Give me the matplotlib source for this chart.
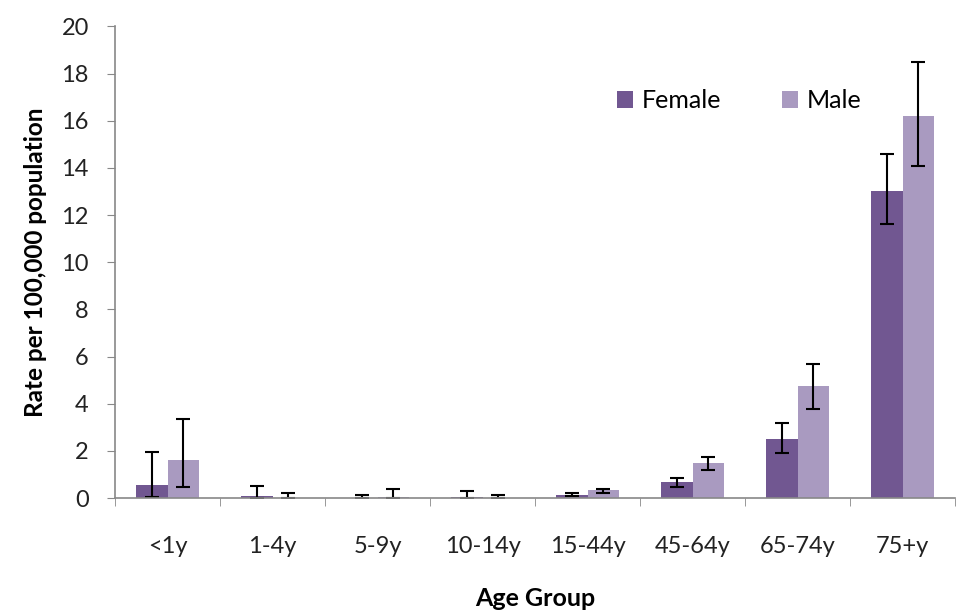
import matplotlib.pyplot as plt
import numpy as np

groups = ['<1y', '1-4y', '5-9y', '10-14y', '15-44y', '45-64y', '65-74y', '75+y']
female = [0.55, 0.1, 0.0, 0.07, 0.15, 0.69, 2.49, 13.0]
female_lo = [0.05, 0.0, 0.0, 0.0, 0.08, 0.47, 1.92, 11.6]
female_hi = [1.95, 0.5, 0.12, 0.3, 0.22, 0.85, 3.19, 14.6]
male = [1.6, 0.0, 0.07, 0.0, 0.33, 1.5, 4.75, 16.2]
male_lo = [0.47, 0.0, 0.0, 0.0, 0.2, 1.19, 3.8, 14.1]
male_hi = [3.35, 0.2, 0.4, 0.12, 0.4, 1.75, 5.7, 18.5]

plt.rcParams['font.family'] = ['Lato', 'DejaVu Sans']

fig = plt.figure(figsize=(9.6, 6.12), dpi=100)
ax = fig.add_axes([0.12, 0.186, 0.875, 0.771])

x = np.arange(len(groups))
w = 0.3
f = np.array(female)
m = np.array(male)
ax.bar(x - w / 2, f, w, color='#715791', label='Female')
ax.bar(x + w / 2, m, w, color='#a99ac0', label='Male')
ax.errorbar(x - w / 2, f, yerr=[f - np.array(female_lo), np.array(female_hi) - f],
            fmt='none', ecolor='black', elinewidth=1.5, capsize=5, capthick=1.5)
ax.errorbar(x + w / 2, m, yerr=[m - np.array(male_lo), np.array(male_hi) - m],
            fmt='none', ecolor='black', elinewidth=1.5, capsize=5, capthick=1.5)

ax.set_xlim(-0.5, len(groups) - 0.5)
ax.set_ylim(0, 20)
ax.set_yticks(range(0, 21, 2))
ax.set_xticks(x)
ax.set_xticklabels(groups)
ax.set_xticks(np.arange(-0.5, len(groups)), minor=True)
ax.tick_params(axis='x', which='major', length=0, pad=27, labelsize=17, labelcolor='#222222')
ax.tick_params(axis='x', which='minor', length=6, color='#888888', direction='out')
ax.tick_params(axis='y', length=6, color='#888888', labelsize=17, pad=13, labelcolor='#222222')

for s in ['top', 'right']:
    ax.spines[s].set_visible(False)
for s in ['left', 'bottom']:
    ax.spines[s].set_color('#888888')
    ax.spines[s].set_linewidth(1.2)

ax.set_xlabel('Age Group', fontsize=18, fontweight='bold', labelpad=22)
ax.set_ylabel('Rate per 100,000 population', fontsize=17.5, fontweight='bold', labelpad=10)

fig.legend(*ax.get_legend_handles_labels(), loc='center left',
           bbox_to_anchor=(617 / 960, 1 - 101 / 612), ncol=2, frameon=False,
           fontsize=18, handlelength=0.65, handleheight=0.65, columnspacing=2.4,
           handletextpad=0.35, borderpad=0, borderaxespad=0)

fig.savefig('out.png', dpi=100)
